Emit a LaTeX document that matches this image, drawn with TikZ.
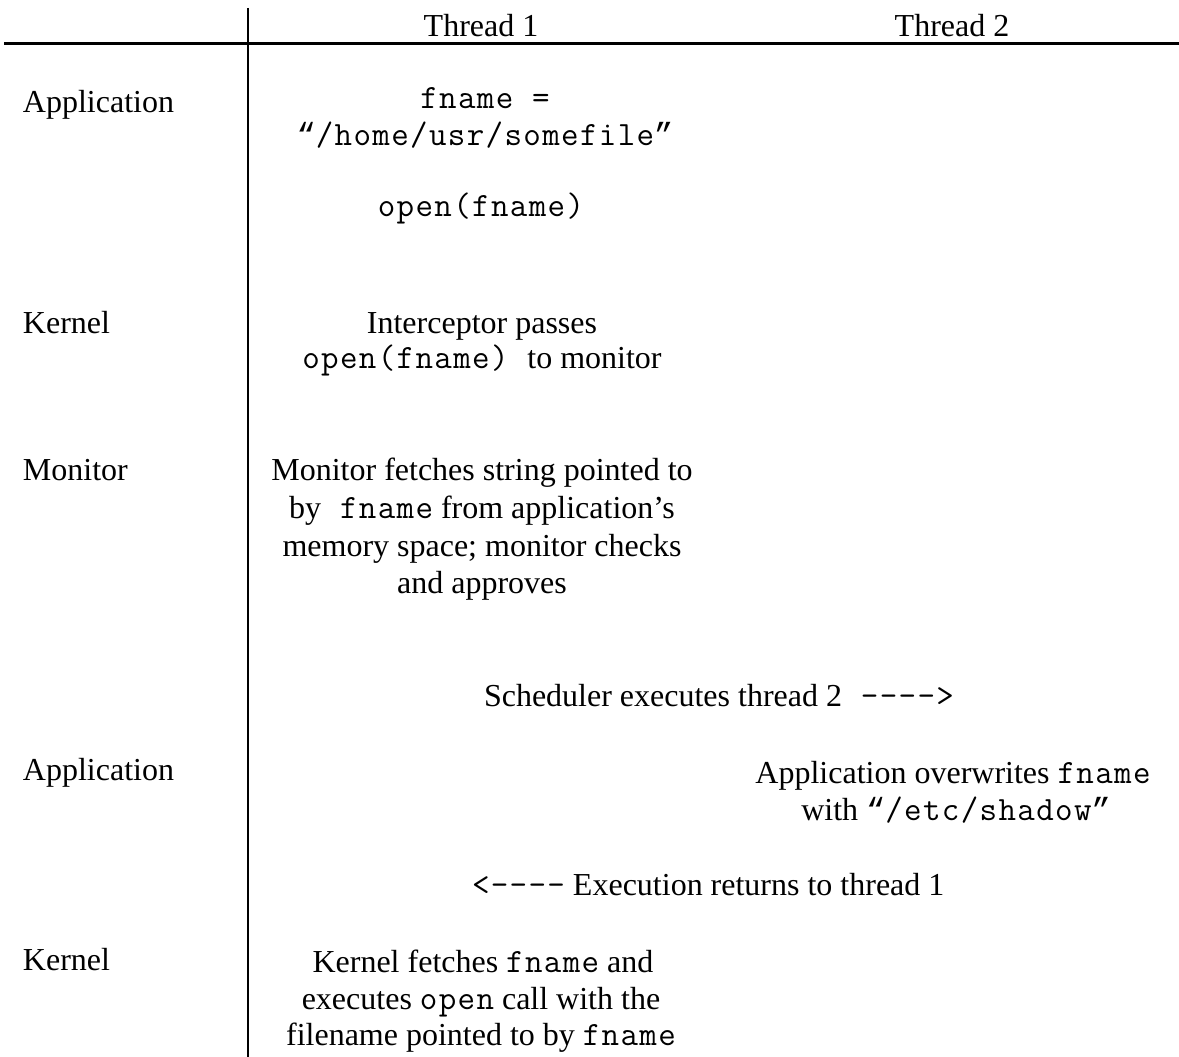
\documentclass[tikz,border=0pt]{standalone}
\usepackage{fontspec}
\setmainfont{Liberation Serif}
% light serif typewriter face, spaced to a Courier pitch of 19.2pt
\newfontfamily\cwfont{Latin Modern Mono}[LetterSpace=4]
\newfontfamily\qtfont{Liberation Mono}
\newcommand\cw[1]{{\cwfont\fontsize{34}{37}\selectfont #1}}
\newcommand\oq{{\qtfont\fontsize{32}{37}\selectfont “}}
\newcommand\cq{{\qtfont\fontsize{32}{37}\selectfont ”}}
\begin{document}
\begin{tikzpicture}[x=1pt,y=-1pt,
  every node/.style={inner sep=0pt,outer sep=0pt,font=\fontsize{32}{37}\selectfont},
  rowlabel/.style={anchor=base west},
  celltext/.style={anchor=base},
  leftset/.style={anchor=base west},
  rule/.style={line width=2.2pt,black}]
\useasboundingbox (0,0) rectangle (1179,1057);

% table rules
\coordinate (hl) at (4,43.5);
\coordinate (hr) at (1179,43.5);
\coordinate (vt) at (248,8);
\coordinate (vb) at (248,1057);
\draw[rule] (hl) -- (hr);
\draw[rule] (vt) -- (vb);

% column headings
\node[celltext] (th1) at (481,37) {Thread 1};
\node[celltext] (th2) at (952,37) {Thread 2};

% row labels
\node[rowlabel] (r1) at (23,113) {Application};
\node[rowlabel] (r2) at (23,333) {Kernel};
\node[rowlabel] (r3) at (23,480) {Monitor};
\node[rowlabel] (r4) at (23,780) {Application};
\node[rowlabel] (r5) at (23,970) {Kernel};

% step 1: application
\node[celltext] (a1) at (485,109) {\cw{fname =}};
\node[celltext] (a2) at (485,146) {\oq\cw{/home/usr/somefile}\cq};
\node[celltext] (a3) at (481,216) {\cw{open(fname)}};

% step 2: kernel
\node[celltext] (k1) at (482,333) {Interceptor passes};
\node[celltext] (k2) at (482,368) {\cw{open(fname) }to monitor};

% step 3: monitor
\node[celltext] (m1) at (482,480) {Monitor fetches string pointed to};
\node[celltext] (m2) at (482,518) {by\cw{ fname} from application’s};
\node[celltext] (m3) at (482,556) {memory space; monitor checks};
\node[celltext] (m4) at (482,593) {and approves};

% switch to thread 2
\node[leftset] (s1) at (484,706) {Scheduler executes thread 2\cw{ ---->}};

% step 4: application in thread 2
\node[celltext] (b1) at (953,783) {Application overwrites \cw{fname}};
\node[celltext] (b2) at (956,820) {with \oq\cw{/etc/shadow}\cq};

% back to thread 1
\node[leftset] (s2) at (472,895) {\cw{<----} Execution returns to thread 1};

% step 5: kernel
\node[celltext] (c1) at (483,972) {Kernel fetches \cw{fname} and};
\node[celltext] (c2) at (481,1009) {executes \cw{open} call with the};
\node[celltext] (c3) at (481,1045) {filename pointed to by \cw{fname}};
\end{tikzpicture}
\end{document}
